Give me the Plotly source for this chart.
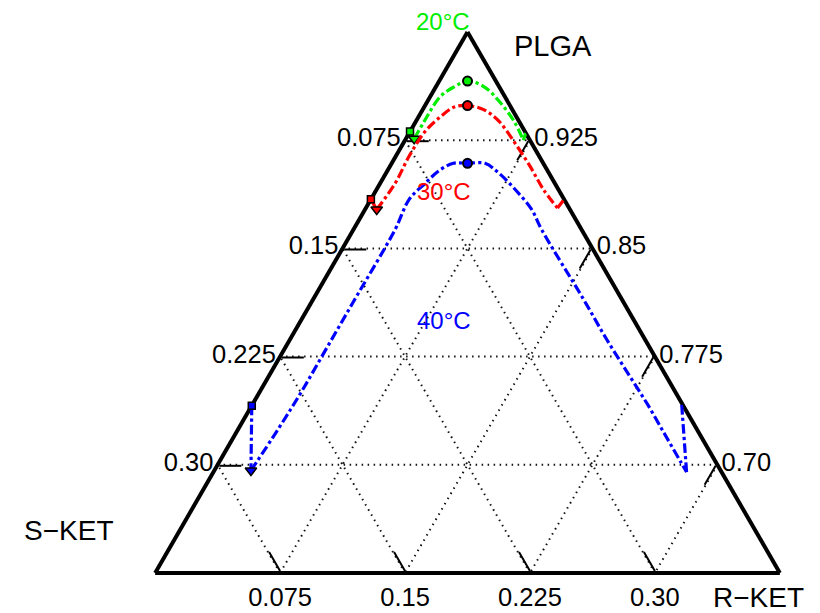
import plotly.graph_objects as go

# ---------------- data (fractions: PLGA, S-KET, R-KET) ----------------
# tick values shown on the three edges
S_TICKS = [0.075, 0.15, 0.225, 0.30]
S_LABELS = ["0.075", "0.15", "0.225", "0.30"]
R_TICKS = [0.075, 0.15, 0.225, 0.30]
R_LABELS = ["0.075", "0.15", "0.225", "0.30"]
P_TICKS = [0.925, 0.85, 0.775, 0.70]
P_LABELS = ["0.925", "0.85", "0.775", "0.70"]

# 20 °C
g_P = [0.926, 0.938, 0.955, 0.962, 0.966, 0.962, 0.952, 0.938, 0.925]
g_S = [0.069, 0.057, 0.039, 0.027, 0.017, 0.009, 0.005, 0.003, 0.004]
g_R = [0.005, 0.005, 0.006, 0.011, 0.017, 0.029, 0.043, 0.059, 0.071]
g_sq = (0.931, 0.069, 0.000)
g_edge = (0.930, 0.000, 0.070)
g_peak = (0.966, 0.017, 0.017)

# 30 °C
r_P = [0.877, 0.895, 0.914, 0.931, 0.941, 0.948, 0.949, 0.946, 0.938, 0.923, 0.907, 0.891, 0.878]
r_S = [0.116, 0.096, 0.078, 0.060, 0.046, 0.034, 0.0255, 0.017, 0.012, 0.010, 0.009, 0.009, 0.007]
r_R = [0.007, 0.009, 0.008, 0.009, 0.013, 0.018, 0.0255, 0.037, 0.050, 0.067, 0.084, 0.100, 0.115]
r_sq = (0.884, 0.116, 0.000)
r_edge = (0.884, 0.000, 0.116)
r_peak = (0.949, 0.0255, 0.0255)

# 40 °C
b_P = [0.696, 0.725, 0.751, 0.780, 0.813, 0.863, 0.884, 0.895, 0.904, 0.909, 0.909, 0.909,
       0.902, 0.891, 0.877, 0.863, 0.815, 0.787, 0.763, 0.742, 0.721, 0.702, 0.695]
b_S = [0.282, 0.251, 0.224, 0.195, 0.162, 0.112, 0.093, 0.078, 0.065, 0.054, 0.0455, 0.035,
       0.030, 0.026, 0.023, 0.024, 0.023, 0.023, 0.022, 0.021, 0.021, 0.021, 0.021]
b_R = [0.022, 0.024, 0.025, 0.025, 0.025, 0.025, 0.023, 0.027, 0.031, 0.037, 0.0455, 0.056,
       0.068, 0.083, 0.100, 0.113, 0.162, 0.190, 0.215, 0.237, 0.258, 0.277, 0.284]
b_sq = (0.741, 0.259, 0.000)
b_edge = (0.743, 0.000, 0.257)
b_peak = (0.909, 0.0455, 0.0455)

TEMPS = ["20°C", "30°C", "40°C"]
COLORS = ["#00ee00", "#ff0000", "#0000ff"]

FONT = "Liberation Sans, Arial, sans-serif"

fig = go.Figure()

series = [
    (g_P, g_S, g_R, g_sq, g_edge, g_peak),
    (r_P, r_S, r_R, r_sq, r_edge, r_peak),
    (b_P, b_S, b_R, b_sq, b_edge, b_peak),
]

for (P, S, R, sq, edge, peak), col, name in zip(series, COLORS, TEMPS):
    # main curve
    fig.add_trace(go.Scatterternary(
        a=P, b=S, c=R, mode="lines", name=name, showlegend=False, cliponaxis=False,
        line=dict(color=col, width=3.2, dash="dashdot", shape="spline", smoothing=1.0)))
    # connectors to the edges
    fig.add_trace(go.Scatterternary(
        a=[sq[0], P[0]], b=[sq[1], S[0]], c=[sq[2], R[0]], mode="lines", showlegend=False,
        cliponaxis=False, line=dict(color=col, width=3.2, dash="dashdot")))
    fig.add_trace(go.Scatterternary(
        a=[P[-1], edge[0]], b=[S[-1], edge[1]], c=[R[-1], edge[2]], mode="lines", showlegend=False,
        cliponaxis=False, line=dict(color=col, width=3.2, dash="dashdot")))
    # markers
    fig.add_trace(go.Scatterternary(
        a=[sq[0]], b=[sq[1]], c=[sq[2]], mode="markers", showlegend=False, cliponaxis=False,
        marker=dict(symbol="square", size=7, color=col, line=dict(color="black", width=1.5))))
    fig.add_trace(go.Scatterternary(
        a=[P[0]], b=[S[0]], c=[R[0]], mode="markers", showlegend=False, cliponaxis=False,
        marker=dict(symbol="triangle-down", size=10, color=col, line=dict(color="black", width=1.5))))
    fig.add_trace(go.Scatterternary(
        a=[peak[0]], b=[peak[1]], c=[peak[2]], mode="markers", showlegend=False, cliponaxis=False,
        marker=dict(symbol="circle", size=9, color=col, line=dict(color="black", width=2))))

axis_common = dict(
    tickmode="array",
    ticks="inside",
    ticklen=22,
    tickwidth=1.5,
    tickcolor="black",
    showline=True,
    linecolor="black",
    linewidth=4,
    showgrid=True,
    gridcolor="#111111",
    gridwidth=1.5,
    griddash="1.5px,4.5px",
    layer="below traces",
    tickfont=dict(family=FONT, size=25.5, color="black"),
    title=dict(text=""),
)

L, R_, T, B = 147, 48, 24, 48
W, H = 820, 613
PW, PH = W - L - R_, H - T - B


def px(x, y):
    return (x - L) / PW, (H - B - y) / PH


annots = []
def add_text(text, x, y, color, size):
    xp, yp = px(x, y)
    annots.append(dict(text=text, x=xp, y=yp, xref="paper", yref="paper", showarrow=False,
                       font=dict(family=FONT, size=size, color=color), xanchor="center", yanchor="middle"))

add_text(TEMPS[0], 435, 14, COLORS[0], 24)
add_text(TEMPS[1], 436, 184, COLORS[1], 24)
add_text(TEMPS[2], 436, 312, COLORS[2], 24)
add_text("PLGA", 545, 38, "black", 29)
add_text("S−KET", 60, 522, "black", 28)
add_text("R−KET", 750, 589, "black", 28)

fig.update_layout(
    width=W, height=H,
    margin=dict(l=L, r=R_, t=T, b=B),
    paper_bgcolor="white",
    plot_bgcolor="white",
    showlegend=False,
    ternary=dict(
        sum=1,
        bgcolor="white",
        domain=dict(x=[0, 1], y=[0, 1]),
        aaxis=dict(min=0.625, tickvals=[1 - s for s in S_TICKS], ticktext=S_LABELS, **axis_common),
        baxis=dict(min=0, tickvals=[0.375 - r for r in R_TICKS], ticktext=R_LABELS, **axis_common),
        caxis=dict(min=0, tickvals=[1 - p for p in P_TICKS], ticktext=P_LABELS, **axis_common),
    ),
    annotations=annots,
)

fig.write_html("out.html")
